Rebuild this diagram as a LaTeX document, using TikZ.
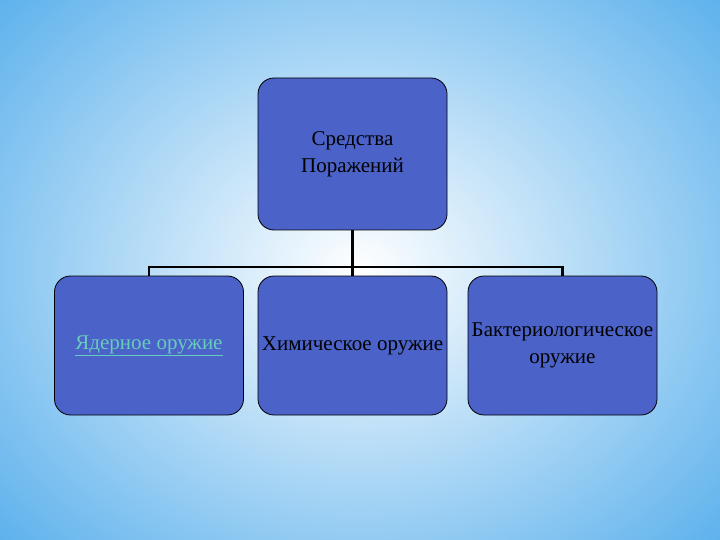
\documentclass[tikz,border=0pt]{standalone}
\usepackage{fontspec}
\setmainfont{Liberation Serif}
\definecolor{bfill}{HTML}{4B62C8}
\definecolor{bgblue}{HTML}{5AB0EC}
\definecolor{linkc}{HTML}{66CCBB}
\begin{document}
\begin{tikzpicture}[x=1pt,y=-1pt,
  box/.style={draw=black,line width=0.8pt,fill=bfill,rounded corners=16pt,minimum width=189pt,align=center,font=\fontsize{21}{27}\selectfont,inner sep=0pt},
  conn/.style={draw=black,line width=2.2pt}]
\useasboundingbox (0,0) rectangle (720,540);
\shade[inner color=white,outer color=bgblue] (-140,-140) rectangle (860,680);
\node[box,minimum height=152pt] (top) at (352.5,154) {Средства\\Поражений};
\node[box,minimum height=139pt] (a) at (149,345.5) {\color{linkc}\underline{Ядерное оружие}};
\node[box,minimum height=139pt] (b) at (352.5,345.5) {Химическое оружие};
\node[box,minimum height=139pt] (c) at (562.5,345.5) {Бактериологическое\\оружие};
\coordinate (j) at (352.5,267);
\draw[conn] (top.south) -- (j);
\draw[conn] (a.north) -- (a.north |- j) -- (c.north |- j) -- (c.north);
\draw[conn] (j) -- (b.north);
\end{tikzpicture}
\end{document}
